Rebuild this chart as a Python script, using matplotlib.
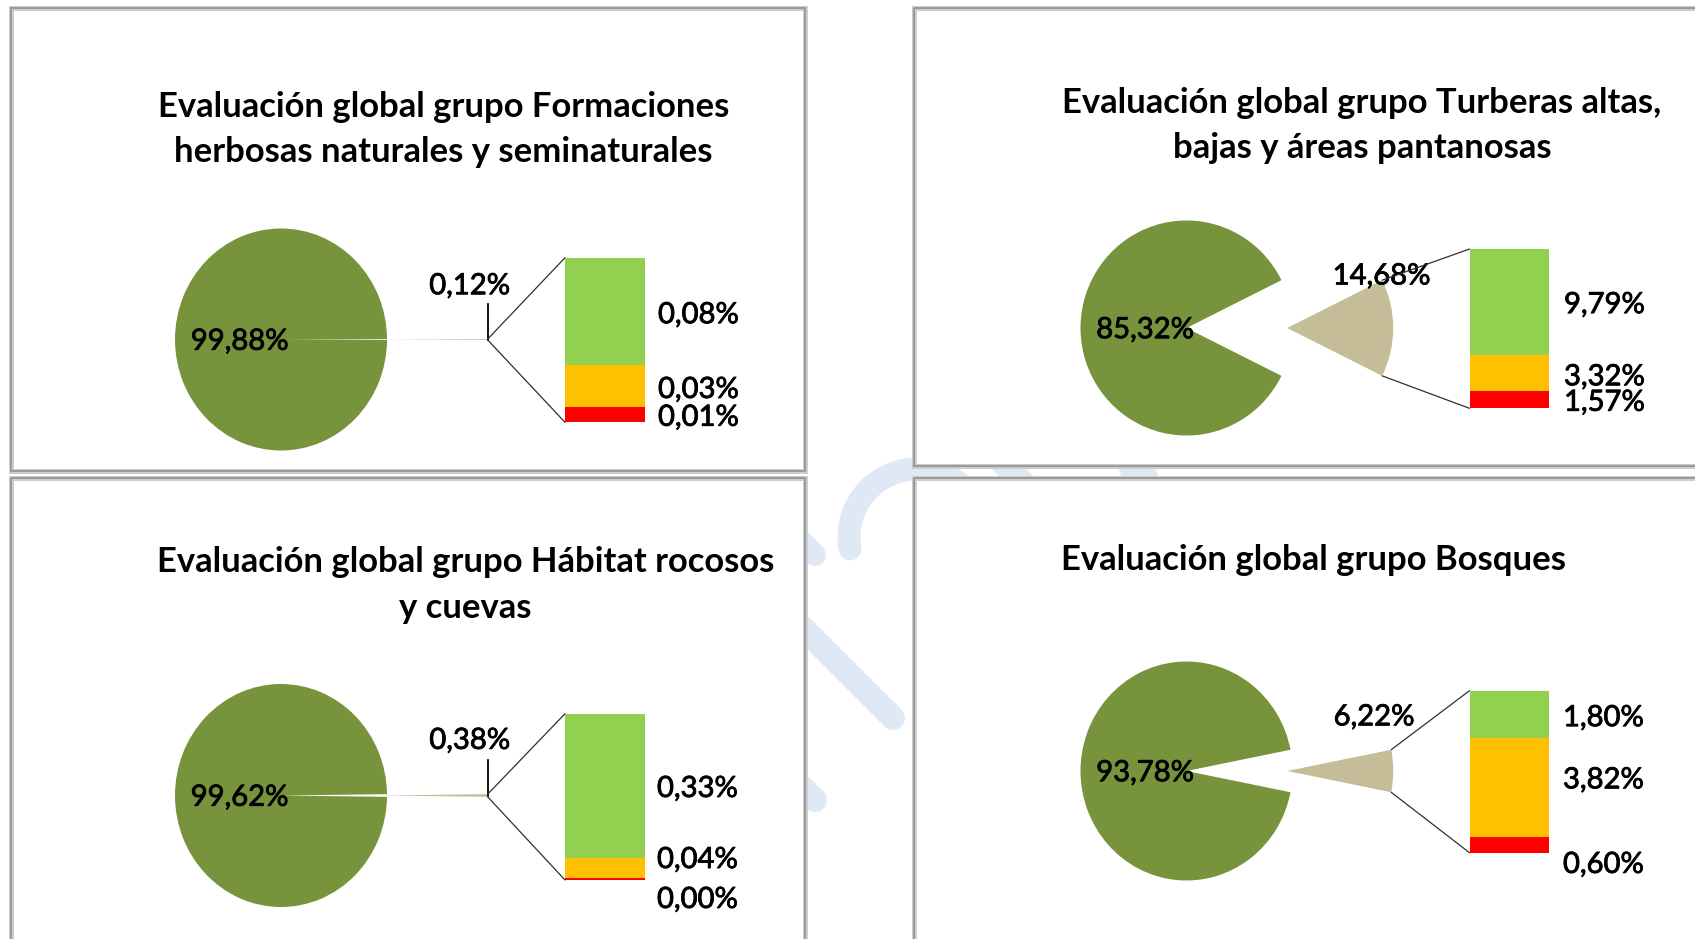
import matplotlib
matplotlib.use("Agg")
import matplotlib.pyplot as plt
from matplotlib.patches import Rectangle, ConnectionPatch
import matplotlib.patheffects as pe
import numpy as np

# ---------------- data ----------------
titles = [
    ["Evaluación global grupo Formaciones", "herbosas naturales y seminaturales"],
    ["Evaluación global grupo Turberas altas,", "bajas y áreas pantanosas"],
    ["Evaluación global grupo Hábitat rocosos", "y cuevas"],
    ["Evaluación global grupo Bosques"],
]
categories = ["Favorable", "Desfavorable-inadecuado", "Desfavorable-malo"]
favorable = [0.078, 9.79, 0.3302, 1.80]
inadecuado = [0.031, 3.32, 0.0449, 3.82]
malo = [0.011, 1.57, 0.0049, 0.60]

# ---------------- style / layout ----------------
W, H = 1695, 939
FONT = ["Lato", "DejaVu Sans"]
C_PIE = "#77933c"
C_OTHER = "#c4bd97"
C_BAR = ["#92d050", "#ffc000", "#ff0000"]
C_WM = "#dfe9f6"

panels_px = [(11, 8, 805, 471), (914, 8, 1712, 466), (11, 478, 805, 952), (914, 478, 1712, 952)]
pie_geom = [(281, 339.5, 106, 111), (1186.5, 328, 106, 107.5),
            (281, 795.5, 106, 111.5), (1186.5, 771, 106, 109.5)]
bar_geom = [(565, 257.7, 645, 422.3), (1469.5, 249, 1549, 408.3),
            (565, 713.7, 645, 880), (1469.5, 690.7, 1549, 852.7)]
title_pos = [(443.5, [106.7, 151.7]), (1362, [103, 148]),
             (465.5, [561.7, 608]), (1313.5, [560])]
other_lab = [(1.78, 0.48), (1.84, 0.48), (1.78, 0.49), (1.77, 0.49)]
bar_lab_dx = [13, 15, 12, 14]
bar_lab_dy = [[4, 4, 3], [3, 4, 3], [3, -8, 21], [4, -7, 20]]
leader = [True, False, True, False]
EXPLODE = 0.95
LAB_FX = [pe.withStroke(linewidth=0.6, foreground="black")]


def pct(v):
    return f"{v:.2f}".replace(".", ",") + "%"


def px_rect(x0, y0, x1, y1):
    return [x0 / W, 1 - y1 / H, (x1 - x0) / W, (y1 - y0) / H]


fig = plt.figure(figsize=(W / 100, H / 100), dpi=100)
fig.patch.set_facecolor("white")
renderer = fig.canvas.get_renderer()


def fit_size(text, target, weight):
    t = fig.text(0, 0, text, fontsize=20, fontweight=weight, family=FONT)
    w = t.get_window_extent(renderer).width
    t.remove()
    return 20 * target / w


title_fs = fit_size("Evaluación global grupo Bosques", 505, "bold")
lab_fs = fit_size("0,08%", 81, "normal")

# background axes in pixel coordinates (watermark + panels)
bg = fig.add_axes([0, 0, 1, 1], zorder=0)
bg.set_xlim(0, W)
bg.set_ylim(H, 0)
bg.axis("off")

px2pt = 0.72
# watermark (light blue logo, mostly hidden behind the panels)
t = np.radians(np.linspace(35, 190, 80))
bg.plot(917 + 68 * np.cos(t), 537 - 68 * np.sin(t), color=C_WM, lw=23 * px2pt,
        solid_capstyle="round", zorder=1)
for (xa, ya, xb, yb, w) in [(780, 605, 893, 718, 24), (790, 530, 815, 555, 22),
                            (790, 775, 815, 800, 24), (985, 445, 1035, 495, 24),
                            (1125, 440, 1150, 500, 34)]:
    bg.plot([xa, xb], [ya, yb], color=C_WM, lw=w * px2pt, solid_capstyle="round", zorder=1)

# panels
for (x0, y0, x1, y1) in panels_px:
    bg.add_patch(Rectangle((x0, y0), x1 - x0, y1 - y0, facecolor="white",
                           edgecolor="#cdcdcd", lw=5 * px2pt, zorder=2))
    bg.add_patch(Rectangle((x0, y0), x1 - x0, y1 - y0, facecolor="none",
                           edgecolor="#8f8f8f", lw=1.6 * px2pt, zorder=3))

# overlay axes for titles
ov = fig.add_axes([0, 0, 1, 1], zorder=6)
ov.set_xlim(0, W)
ov.set_ylim(H, 0)
ov.axis("off")
ov.patch.set_alpha(0)

for i in range(4):
    fav, ina, mal = favorable[i], inadecuado[i], malo[i]
    other = fav + ina + mal
    main = 100 - other

    # ---- pie ----
    cx, cy, rx, ry = pie_geom[i]
    x0l, x1l, yl = -1.2, 2.25, 1.2
    axp = fig.add_axes(px_rect(cx + x0l * rx, cy - yl * ry, cx + x1l * rx, cy + yl * ry), zorder=2)
    wedges, _ = axp.pie([other, main], colors=[C_OTHER, C_PIE],
                        startangle=-other / 100 * 180, explode=[EXPLODE, 0],
                        radius=1, wedgeprops=dict(linewidth=0))
    axp.set_aspect("auto")
    axp.set_xlim(x0l, x1l)
    axp.set_ylim(-yl, yl)
    axp.axis("off")

    axp.text(-0.39, -0.02, pct(main), ha="center", va="center", fontsize=lab_fs,
             family=FONT, color="black", zorder=5, path_effects=LAB_FX)
    lx, ly = other_lab[i]
    axp.text(lx, ly, pct(other), ha="center", va="center", fontsize=lab_fs,
             family=FONT, color="black", zorder=5, path_effects=LAB_FX)

    w0 = wedges[0]
    wc = np.array(w0.center)
    th1, th2 = np.radians(w0.theta1), np.radians(w0.theta2)
    p_top = wc + w0.r * np.array([np.cos(th2), np.sin(th2)])
    p_bot = wc + w0.r * np.array([np.cos(th1), np.sin(th1)])
    if leader[i]:
        tip = wc[0] + w0.r
        axp.plot([tip, tip], [0, 0.32], color="black", lw=1.3, zorder=4)

    # ---- stacked bar ----
    bx0, by0, bx1, by1 = bar_geom[i]
    axb = fig.add_axes(px_rect(bx0, by0, bx1, by1), zorder=3)
    vals = [fav, ina, mal]
    bottoms = [mal + ina, mal, 0]
    for v, b, c in zip(vals, bottoms, C_BAR):
        axb.bar(0, v, bottom=b, width=1, color=c, linewidth=0)
    axb.set_xlim(-0.5, 0.5)
    axb.set_ylim(0, other)
    axb.axis("off")
    for k, (v, b) in enumerate(zip(vals, bottoms)):
        axb.annotate(pct(v), xy=(1, b + v / 2), xycoords=("axes fraction", "data"),
                     xytext=(bar_lab_dx[i] * px2pt, -bar_lab_dy[i][k] * px2pt),
                     textcoords="offset points", ha="left", va="center",
                     fontsize=lab_fs, family=FONT, color="black",
                     annotation_clip=False, path_effects=LAB_FX)

    # ---- connector lines ----
    for pA, yB in [(p_top, other), (p_bot, 0)]:
        con = ConnectionPatch(xyA=tuple(pA), coordsA=axp.transData,
                              xyB=(-0.5, yB), coordsB=axb.transData,
                              color="#303030", lw=0.9, zorder=5)
        fig.add_artist(con)

    # ---- title ----
    tx, tys = title_pos[i]
    for line, ty in zip(titles[i], tys):
        ov.text(tx, ty, line, ha="center", va="center", fontsize=title_fs,
                fontweight="bold", family=FONT, color="black")

fig.savefig("out.png", dpi=100, facecolor="white")
